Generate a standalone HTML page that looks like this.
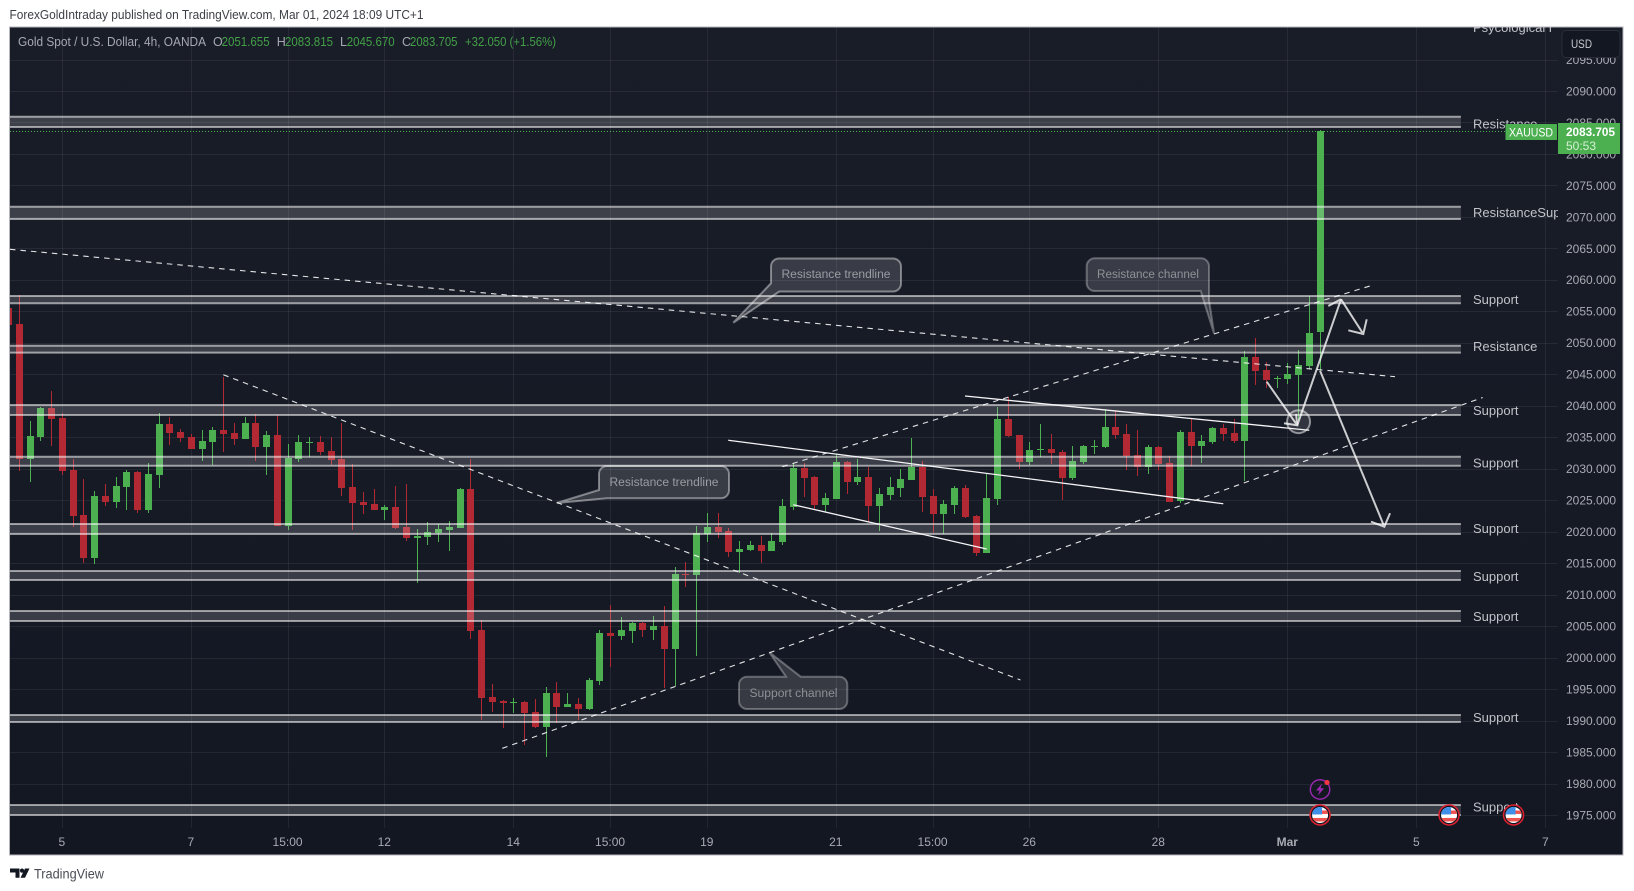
<!DOCTYPE html>
<html lang="en">
<head>
<meta charset="utf-8">
<title>XAUUSD 4h chart</title>
<style>
html,body{margin:0;padding:0;background:#fff;width:1634px;height:891px;overflow:hidden}
svg{display:block;font-family:"Liberation Sans",sans-serif}
</style>
</head>
<body>
<svg id="chart" xmlns="http://www.w3.org/2000/svg" width="1634" height="891" viewBox="0 0 1634 891">
  <defs>
    <linearGradient id="paneBg" x1="0" y1="0" x2="0" y2="1">
      <stop offset="0" stop-color="#191d28"/>
      <stop offset="1" stop-color="#131722"/>
    </linearGradient>
    <clipPath id="paneClip"><rect x="10" y="27" width="1548" height="801"/></clipPath>
    <clipPath id="axisClip"><rect x="1558" y="27" width="65" height="801"/></clipPath>
    <clipPath id="flagClip"><circle cx="0" cy="0" r="8"/></clipPath>
  </defs>

  <text x="9.500" y="19" font-size="12.500" fill="#3c3f46" textLength="414" lengthAdjust="spacingAndGlyphs">ForexGoldIntraday published on TradingView.com, Mar 01, 2024 18:09 UTC+1</text>

  <rect x="9.500" y="27" width="1613.500" height="828" fill="url(#paneBg)" stroke="#b4b6bc" stroke-width="1"/>

  <g id="grid"></g>
  <g id="candles" clip-path="url(#paneClip)" shape-rendering="crispEdges"></g>
  <g id="zones" clip-path="url(#paneClip)"></g>
  <line id="lastLine" stroke="#4caf50" stroke-width="1" stroke-dasharray="1 2"/>
  <g id="drawings" clip-path="url(#paneClip)"></g>

  <g>
    <path d="M779 258.500H893a8 8 0 0 1 8 8V283.500a8 8 0 0 1 -8 8H779.300L733.300 322.700L771 283.300V266.500a8 8 0 0 1 8 -8Z" fill="rgba(255,255,255,.15)" stroke="rgba(255,255,255,.42)" stroke-width="2"/>
    <text x="781.500" y="278" font-size="12.400" fill="#9a9ca3" textLength="109" lengthAdjust="spacingAndGlyphs">Resistance trendline</text>
  </g>
  <g>
    <path d="M607 466H721a8 8 0 0 1 8 8V490.300a8 8 0 0 1 -8 8H606.700L556.700 503L599 490V474a8 8 0 0 1 8 -8Z" fill="rgba(255,255,255,.15)" stroke="rgba(255,255,255,.42)" stroke-width="2"/>
    <text x="609.500" y="486" font-size="12.400" fill="#9a9ca3" textLength="109" lengthAdjust="spacingAndGlyphs">Resistance trendline</text>
  </g>
  <g>
    <path d="M1094.700 258.300H1201a8 8 0 0 1 8 8V300L1214 333.300L1200.700 291H1094.700a8 8 0 0 1 -8 -8V266.300a8 8 0 0 1 8 -8Z" fill="rgba(255,255,255,.15)" stroke="rgba(255,255,255,.3)" stroke-width="2"/>
    <text x="1097" y="278" font-size="12.400" fill="#8f9197" textLength="102" lengthAdjust="spacingAndGlyphs">Resistance channel</text>
  </g>
  <g>
    <path d="M747 676.700H786L769.300 652.300L800.700 676.700H839.300a8 8 0 0 1 8 8V701a8 8 0 0 1 -8 8H747a8 8 0 0 1 -8 -8V684.700a8 8 0 0 1 8 -8Z" fill="rgba(255,255,255,.15)" stroke="rgba(255,255,255,.3)" stroke-width="2"/>
    <text x="749.500" y="697" font-size="12.400" fill="#8f9197" textLength="88" lengthAdjust="spacingAndGlyphs">Support channel</text>
  </g>

  <g id="zoneLabels" clip-path="url(#paneClip)"></g>
  <g id="axisLabels" clip-path="url(#axisClip)"></g>
  <g id="timeLabels"></g>
  <g id="events"></g>

  <g font-size="12.500">
    <text x="18" y="46" fill="#a6a9b1" textLength="188" lengthAdjust="spacingAndGlyphs">Gold Spot / U.S. Dollar, 4h, OANDA</text>
    <text x="213" y="46" fill="#a6a9b1">O</text>
    <text x="221.600" y="46" fill="#43a047" textLength="48" lengthAdjust="spacingAndGlyphs">2051.655</text>
    <text x="276.700" y="46" fill="#a6a9b1">H</text>
    <text x="285" y="46" fill="#43a047" textLength="48" lengthAdjust="spacingAndGlyphs">2083.815</text>
    <text x="340" y="46" fill="#a6a9b1">L</text>
    <text x="346.700" y="46" fill="#43a047" textLength="48" lengthAdjust="spacingAndGlyphs">2045.670</text>
    <text x="402" y="46" fill="#a6a9b1">C</text>
    <text x="410" y="46" fill="#43a047" textLength="47.500" lengthAdjust="spacingAndGlyphs">2083.705</text>
    <text x="465" y="46" fill="#43a047" textLength="91" lengthAdjust="spacingAndGlyphs">+32.050 (+1.56%)</text>
  </g>

  <g>
    <rect x="1562" y="30.500" width="58" height="27" rx="4" fill="#131722" stroke="#2a2e39" stroke-width="1"/>
    <text x="1571" y="48" font-size="12" fill="#c8cad0" textLength="21" lengthAdjust="spacingAndGlyphs">USD</text>
  </g>

  <g id="priceTags"></g>

  <g>
    <path d="M10 868.500H19.500V877.700H15.500V872.500H10Z" fill="#131722"/>
    <circle cx="22" cy="870.600" r="2.100" fill="#131722"/>
    <polygon points="25,868.500 29.500,868.500 25,877.700 20.500,877.700" fill="#131722"/>
    <text x="34" y="878.500" font-size="13.500" fill="#4a4d55" textLength="70" lengthAdjust="spacingAndGlyphs">TradingView</text>
  </g>
</svg>

<script>
const opens = [2055.54,2053.00,2031.62,2035.06,2039.66,2038.07,2029.82,2022.67,2015.84,2025.69,2024.73,2027.12,2029.50,2023.46,2029.02,2037.12,2035.85,2035.06,2033.15,2034.26,2036.17,2035.69,2034.74,2037.28,2033.47,2035.37,2020.92,2031.56,2034.10,2034.26,2032.83,2031.56,2027.12,2024.73,2024.42,2023.46,2023.94,2020.77,2019.03,2019.19,2019.82,2020.30,2020.61,2026.81,2004.42,1993.78,1993.14,1992.83,1992.99,1991.40,1989.02,1994.41,1992.19,1992.67,1991.87,1996.32,2003.94,2003.47,2004.26,2005.53,2004.42,2005.05,2001.40,2013.31,2013.15,2019.66,2020.77,2020.14,2016.80,2017.12,2017.92,2016.96,2018.39,2023.95,2030.14,2028.71,2024.26,2025.21,2031.09,2027.91,2028.71,2024.10,2025.85,2026.96,2028.23,2030.30,2025.69,2022.83,2024.26,2026.96,2022.51,2016.64,2025.21,2037.92,2035.38,2031.09,2032.99,2033.15,2032.68,2028.55,2031.09,2033.47,2033.47,2036.65,2035.54,2032.20,2030.30,2033.47,2030.93,2024.89,2035.85,2033.63,2034.26,2036.49,2035.69,2034.42,2047.76,2045.70,2044.27,2044.27,2044.90,2046.33,2051.655];
const highs = [2056.50,2057.60,2037.60,2039.82,2042.36,2038.87,2031.56,2028.39,2026.48,2027.59,2028.70,2029.82,2029.66,2030.93,2038.87,2038.23,2036.33,2035.53,2036.17,2036.64,2044.58,2037.28,2038.23,2038.71,2036.01,2038.55,2033.94,2035.37,2035.06,2035.21,2035.06,2037.28,2030.77,2026.32,2026.80,2024.26,2027.27,2027.60,2020.46,2021.57,2021.25,2021.73,2026.97,2031.57,2006.01,1995.84,1993.30,1993.62,1993.14,1993.46,1995.37,1996.16,1994.41,1993.62,1996.80,2004.42,2008.39,2006.48,2005.69,2005.69,2006.64,2008.23,2014.42,2015.22,2020.93,2023.00,2023.00,2020.61,2018.55,2018.55,2019.34,2019.82,2025.22,2030.94,2030.93,2028.87,2026.17,2032.36,2031.25,2031.57,2030.30,2026.96,2028.71,2029.98,2034.90,2031.25,2026.80,2025.06,2027.28,2027.44,2022.67,2029.18,2039.82,2041.41,2035.38,2034.27,2037.12,2035.54,2032.99,2033.63,2033.79,2034.58,2039.51,2039.19,2037.12,2036.17,2033.79,2033.63,2032.04,2036.17,2037.91,2035.37,2036.64,2037.12,2037.91,2048.71,2050.78,2046.97,2044.74,2046.81,2048.87,2057.45,2083.815];
const lows = [2052.30,2029.66,2027.91,2034.42,2033.63,2029.02,2020.76,2015.05,2014.89,2024.10,2023.78,2023.46,2022.99,2022.99,2026.96,2033.79,2034.26,2033.15,2031.25,2030.61,2032.67,2033.79,2034.74,2031.25,2029.02,2020.92,2020.29,2031.09,2031.88,2032.20,2030.61,2025.69,2020.29,2022.83,2023.46,2021.88,2020.45,2018.55,2011.88,2017.92,2018.39,2016.96,2020.61,2002.99,1990.13,1991.40,1988.86,1991.24,1986.16,1988.86,1984.25,1989.65,1992.19,1990.13,1991.72,1995.68,1998.54,2002.83,2002.35,2003.31,2002.83,1995.21,1995.53,2011.25,2000.29,2018.39,2019.03,2016.01,2013.47,2016.96,2015.06,2016.96,2017.92,2023.47,2025.53,2023.63,2023.15,2025.21,2026.01,2027.44,2021.56,2020.13,2025.06,2025.53,2028.23,2023.15,2019.82,2019.66,2022.83,2022.20,2016.16,2016.64,2024.26,2035.06,2029.98,2030.61,2031.88,2030.77,2025.06,2028.23,2030.77,2032.36,2033.31,2034.74,2029.82,2028.87,2029.18,2029.82,2024.74,2024.58,2030.45,2030.93,2033.94,2034.42,2034.10,2028.07,2043.31,2042.84,2042.84,2043.47,2037.76,2045.85,2045.67];
const closes = [2052.84,2031.62,2035.21,2039.66,2037.91,2029.66,2022.51,2015.84,2025.69,2024.73,2027.27,2029.50,2023.46,2029.18,2037.12,2035.69,2034.90,2033.15,2034.42,2036.17,2035.53,2034.74,2037.28,2033.47,2035.37,2020.92,2031.72,2034.26,2034.26,2032.67,2031.40,2026.96,2024.58,2024.26,2023.46,2023.94,2020.61,2019.03,2019.34,2019.98,2020.46,2020.77,2026.81,2004.26,1993.62,1992.99,1992.83,1992.99,1991.24,1989.02,1994.41,1992.19,1992.67,1991.87,1996.48,2003.94,2003.47,2004.42,2005.53,2004.42,2005.05,2001.40,2013.31,2013.15,2019.82,2020.77,2019.98,2016.80,2017.28,2017.92,2016.96,2018.55,2024.11,2030.14,2028.55,2024.26,2025.37,2031.09,2027.91,2028.71,2024.10,2026.01,2027.12,2028.39,2030.30,2025.53,2022.83,2024.42,2026.96,2022.36,2016.64,2025.37,2037.92,2035.22,2031.09,2032.99,2033.15,2032.52,2028.55,2031.25,2033.63,2033.63,2036.65,2035.38,2032.04,2030.30,2033.47,2030.77,2024.74,2035.85,2033.63,2034.42,2036.49,2035.53,2034.42,2047.76,2045.54,2044.11,2044.42,2045.06,2046.49,2051.57,2083.705];

const priceTicks = [2095,2090,2085,2080,2075,2070,2065,2060,2055,2050,2045,2040,2035,2030,2025,2020,2015,2010,2005,2000,1995,1990,1985,1980,1975];
const timeTickBars = [5,17,26,35,47,56,65,77,86,95,107,119,131,143];
const timeTickLabels = ['5','7','15:00','12','14','15:00','19','21','15:00','26','28','Mar','5','7'];

const zoneTops = [2085.92,2071.63,2057.45,2049.56,2040.14,2031.93,2021.25,2013.78,2007.43,1990.92,1976.63];
const zoneBottoms = [2084.28,2069.68,2056.29,2048.45,2038.55,2030.50,2019.66,2012.36,2005.85,1989.81,1975.04];
const zoneEndBar = 135.1;

const zoneLabelTexts = ['Psycological r','Resistance','ResistanceSup','Support','Resistance','Support','Support','Support','Support','Support','Support','Support'];
const zoneLabelPrices = [2100.05,2084.75,2070.7,2056.9,2049.4,2039.25,2030.95,2020.5,2012.9,2006.6,1990.55,1976.3];

const dashedStartBars = [0.135,19.98,45.93,71.98];
const dashedStartPrices = [2064.86,2044.95,1985.63,2030.35];
const dashedEndBars = [128.97,94.13,137.13,126.95];
const dashedEndPrices = [2044.64,1996.48,2041.33,2059.20];

const solidStartBars = [88.97,66.95,73.0];
const solidStartPrices = [2041.57,2034.54,2024.31];
const solidEndBars = [121.0,113.0,90.99];
const solidEndPrices = [2036.13,2024.47,2017.28];

const arrowFromBars = [117.04,119.88,123.95,122.0];
const arrowFromPrices = [2043.84,2036.92,2056.93,2045.59];
const arrowTipBars = [119.88,123.95,126.02,127.98];
const arrowTipPrices = [2036.92,2056.93,2051.42,2020.82];
const arrowBarbABars = [118.65,122.77,124.63,126.74];
const arrowBarbAPrices = [2037.24,2055.86,2052.0,2021.61];
const arrowBarbBBars = [119.77,123.95,126.34,128.51];
const arrowBarbBPrices = [2038.71,2056.93,2053.75,2022.95];

const circleBar = 120.0;
const circlePrice = 2037.49;

const lastPrice = 2083.705;
const lastPriceText = '2083.705';
const countdownText = '50:53';
const symbolText = 'XAUUSD';
const eventBars = [122,134,140];
const eventPrice = 1975.05;
const newsBar = 122;
const newsPrice = 1979.1;

const NS = 'http://www.w3.org/2000/svg';
const xOf = function (bar) { return 8.55 + 10.75 * bar; };
const yOf = function (price) { return 91 + (2090 - price) * 6.298; };
const paneLeft = 10, paneRight = 1558, paneBottom = 828, paneTop = 27;

function mk(tag, attrs, parent, text) {
  const el = document.createElementNS(NS, tag);
  for (const k in attrs) el.setAttribute(k, attrs[k]);
  if (text !== undefined) el.textContent = text;
  parent.appendChild(el);
  return el;
}
const gridG = document.getElementById('grid');
const candleG = document.getElementById('candles');
const zoneG = document.getElementById('zones');
const drawG = document.getElementById('drawings');
const zoneLabelG = document.getElementById('zoneLabels');
const axisG = document.getElementById('axisLabels');
const timeG = document.getElementById('timeLabels');
const eventG = document.getElementById('events');
const tagG = document.getElementById('priceTags');

priceTicks.forEach(function (p) {
  const y = Math.round(yOf(p)) + 0.5;
  const gl = mk('line', {x1: paneLeft, x2: paneRight, y1: y, y2: y, stroke: 'rgba(240,243,250,.07)', 'stroke-width': 1}, gridG);
  
  
  const t = mk('text', {x: 1566, y: yOf(p) + 4.3, 'font-size': 12, fill: '#a9abb2'}, axisG, p.toFixed(3));
  
  
});

timeTickBars.forEach(function (b, i) {
  const x = Math.round(xOf(b) - 0.5) + 0.5;
  const gl = mk('line', {x1: x, x2: x, y1: paneTop, y2: paneBottom, stroke: 'rgba(240,243,250,.07)', 'stroke-width': 1}, gridG);
  
  
  const t = mk('text', {x: xOf(b) - 0.5, y: 846, 'font-size': 12, fill: '#a9abb2', 'text-anchor': 'middle', 'font-weight': timeTickLabels[i] === 'Mar' ? 'bold' : 'normal'}, timeG, timeTickLabels[i]);
  
  
});

opens.forEach(function (o, i) {
  const c = closes[i];
  const up = c >= o;
  const col = up ? '#4caf50' : '#b22833';
  const x = xOf(i);
  const g = mk('g', {}, candleG);
  
  
  const yh = Math.round(yOf(highs[i]));
  const yl = Math.round(yOf(lows[i]));
  mk('rect', {x: Math.round(x - 0.5), y: yh, width: 1, height: Math.max(1, yl - yh), fill: col}, g);
  const yt = Math.round(yOf(Math.max(o, c)));
  const yb = Math.round(yOf(Math.min(o, c)));
  mk('rect', {x: Math.round(x - 3.5), y: yt, width: 7, height: Math.max(1, yb - yt), fill: col}, g);
});

zoneTops.forEach(function (top, i) {
  const yt = yOf(top);
  const yb = yOf(zoneBottoms[i]);
  const xEnd = xOf(zoneEndBar);
  const g = mk('g', {}, zoneG);
  
  
  mk('rect', {x: paneLeft, y: yt, width: xEnd - paneLeft, height: yb - yt, fill: 'rgba(255,255,255,.16)'}, g);
  mk('line', {x1: paneLeft, x2: xEnd, y1: yt, y2: yt, stroke: 'rgba(255,255,255,.55)', 'stroke-width': 2}, g);
  mk('line', {x1: paneLeft, x2: xEnd, y1: yb, y2: yb, stroke: 'rgba(255,255,255,.55)', 'stroke-width': 2}, g);
});

zoneLabelTexts.forEach(function (label, i) {
  const t = mk('text', {x: 1473, y: yOf(zoneLabelPrices[i]) + 4.5, 'font-size': 13, fill: '#c2c3c8'}, zoneLabelG, label);
  
  
});

dashedStartBars.forEach(function (b, i) {
  const l = mk('line', {x1: xOf(b), y1: yOf(dashedStartPrices[i]), x2: xOf(dashedEndBars[i]), y2: yOf(dashedEndPrices[i]), stroke: 'rgba(255,255,255,.88)', 'stroke-width': 1.1, 'stroke-dasharray': '5.5 5'}, drawG);
  
  
});

solidStartBars.forEach(function (b, i) {
  const l = mk('line', {x1: xOf(b), y1: yOf(solidStartPrices[i]), x2: xOf(solidEndBars[i]), y2: yOf(solidEndPrices[i]), stroke: '#f4f4f6', 'stroke-width': 1.3}, drawG);
  
  
});

const circ = mk('circle', {cx: xOf(circleBar), cy: yOf(circlePrice), r: 11.5, fill: 'rgba(255,255,255,.12)', stroke: 'rgba(255,255,255,.5)', 'stroke-width': 2}, drawG);



arrowFromBars.forEach(function (b, i) {
  const tx = xOf(arrowTipBars[i]), ty = yOf(arrowTipPrices[i]);
  const d = 'M' + xOf(b) + ' ' + yOf(arrowFromPrices[i]) + 'L' + tx + ' ' + ty +
    'M' + xOf(arrowBarbABars[i]) + ' ' + yOf(arrowBarbAPrices[i]) + 'L' + tx + ' ' + ty +
    'L' + xOf(arrowBarbBBars[i]) + ' ' + yOf(arrowBarbBPrices[i]);
  const p = mk('path', {d: d, fill: 'none', stroke: 'rgba(255,255,255,.78)', 'stroke-width': 2}, drawG);
  
  
});

const lastLine = document.getElementById('lastLine');
lastLine.setAttribute('x1', paneLeft);
lastLine.setAttribute('x2', 1506);
lastLine.setAttribute('y1', Math.round(yOf(lastPrice)) + 0.5);
lastLine.setAttribute('y2', Math.round(yOf(lastPrice)) + 0.5);

const newsX = xOf(newsBar), newsY = yOf(newsPrice);
const news = mk('g', {}, eventG);


mk('circle', {cx: newsX, cy: newsY, r: 9.7, fill: 'none', stroke: '#9c27b0', 'stroke-width': 1.4}, news);
mk('polygon', {points: [newsX + 2, newsY - 6, newsX - 4, newsY + 1, newsX - 0.5, newsY + 1, newsX - 2, newsY + 6, newsX + 4, newsY - 1.2, newsX + 0.5, newsY - 1.2].join(' '), fill: '#9c27b0'}, news);
mk('circle', {cx: newsX + 7, cy: newsY - 7, r: 2.6, fill: '#f23645'}, news);

eventBars.forEach(function (b) {
  const x = xOf(b), y = yOf(eventPrice);
  const g = mk('g', {transform: 'translate(' + x + ' ' + y + ')'}, eventG);
  
  
  mk('circle', {cx: 0, cy: 0, r: 10, fill: '#131722', stroke: '#e0202f', 'stroke-width': 1.5}, g);
  const inner = mk('g', {'clip-path': 'url(#flagClip)'}, g);
  mk('rect', {x: -8, y: -8, width: 16, height: 16, fill: '#fff'}, inner);
  mk('rect', {x: -8, y: -4.5, width: 16, height: 3.5, fill: '#ef5350'}, inner);
  mk('rect', {x: -8, y: 3, width: 16, height: 3.5, fill: '#ef5350'}, inner);
  mk('rect', {x: -8, y: -8, width: 10, height: 7.5, fill: '#3f8fe8'}, inner);
});

const tagY = Math.round(yOf(lastPrice));
const sym = mk('g', {}, tagG);


mk('rect', {x: 1505.5, y: tagY - 7, width: 51.5, height: 16, fill: '#4caf50'}, sym);
mk('text', {x: 1509, y: tagY + 5.5, 'font-size': 12, fill: '#fff', textLength: 44, lengthAdjust: 'spacingAndGlyphs'}, sym, symbolText);
const tagP = mk('g', {}, tagG);


mk('rect', {x: 1558, y: tagY - 8, width: 62, height: 31, fill: '#4caf50'}, tagP);
mk('text', {x: 1566, y: tagY + 5, 'font-size': 12, 'font-weight': 'bold', fill: '#fff', textLength: 49, lengthAdjust: 'spacingAndGlyphs'}, tagP, lastPriceText);
mk('text', {x: 1566, y: tagY + 19, 'font-size': 12, fill: '#d6f0d7'}, tagP, countdownText);
</script>
</body>
</html>
